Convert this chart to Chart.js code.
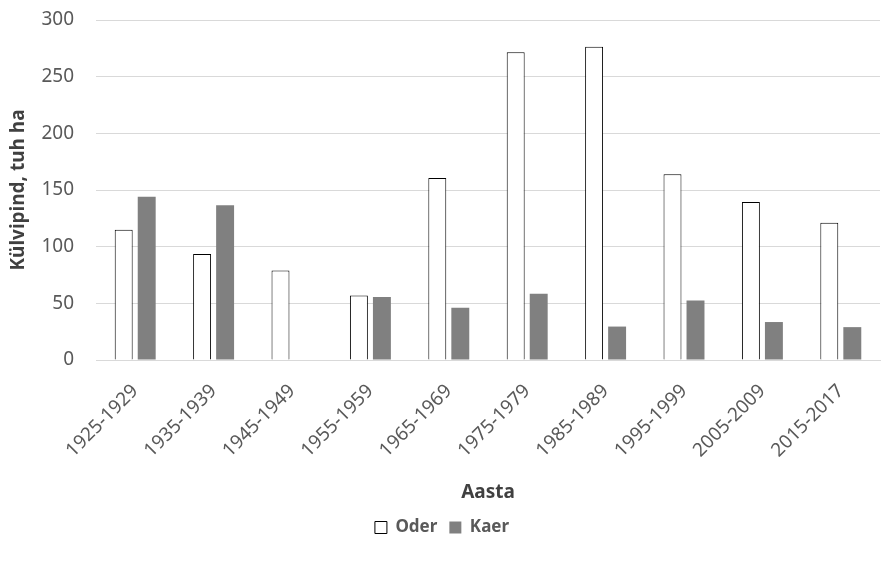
<!DOCTYPE html>
<html>
<head>
<meta charset="utf-8">
<script src="https://cdn.jsdelivr.net/npm/chart.js@4"></script>
<style>
    html, body { margin: 0; padding: 0; background: #ffffff; }
    #wrap { width: 887px; height: 562px; }
</style>
</head>
<body>
<div id="wrap"><canvas id="chart"></canvas></div>
<script>
// Data
var periods = ['1925-1929', '1935-1939', '1945-1949', '1955-1959', '1965-1969',
               '1975-1979', '1985-1989', '1995-1999', '2005-2009', '2015-2017'];
var oderValues = [115, 93.5, 79, 57, 160.5, 271.5, 276.5, 164, 139.5, 121];
var kaerValues = [144, 136.5, null, 55.5, 46, 58.5, 29.5, 52.5, 33.5, 29];
var yTicks = [0, 50, 100, 150, 200, 250, 300];

var fontFamily = '"Noto Sans", "Open Sans", sans-serif';

document.addEventListener('DOMContentLoaded', function() {
    var ctx = document.getElementById('chart').getContext('2d');

    new Chart(ctx, {
        type: 'bar',
        data: {
            labels: periods,
            datasets: [{
                label: 'Oder',
                data: oderValues,
                backgroundColor: '#ffffff',
                borderColor: '#000000',
                borderWidth: 1,
                categoryPercentage: 0.587,
                barPercentage: 0.78
            }, {
                label: 'Kaer',
                data: kaerValues,
                backgroundColor: '#808080',
                borderColor: '#808080',
                borderWidth: 0,
                categoryPercentage: 0.587,
                barPercentage: 0.78
            }]
        },
        options: {
            responsive: true,
            maintainAspectRatio: false,
            animation: false,
            layout: {
                padding: { left: 4, right: 7, top: 20, bottom: 16 }
            },
            plugins: {
                tooltip: { enabled: false },
                legend: {
                    position: 'bottom',
                    labels: {
                        color: '#595959',
                        boxWidth: 12,
                        boxHeight: 12,
                        padding: 12,
                        font: { family: fontFamily, size: 17, weight: 'bold' }
                    }
                }
            },
            scales: {
                x: {
                    afterFit: function(axis) {
                        // keep the plot area where the reference has it
                        axis.height = 147;
                        axis.paddingLeft = 0;
                        axis.paddingRight = 0;
                    },
                    grid: { display: false },
                    border: { color: '#d9d9d9', width: 1 },
                    ticks: {
                        color: '#595959',
                        minRotation: 45,
                        maxRotation: 45,
                        padding: 12,
                        font: { family: fontFamily, size: 19 }
                    },
                    title: {
                        display: true,
                        text: 'Aasta',
                        color: '#404040',
                        padding: { top: 10, bottom: 3 },
                        font: { family: fontFamily, size: 19, weight: 'bold' }
                    }
                },
                y: {
                    min: 0,
                    max: 300,
                    afterBuildTicks: function(axis) {
                        axis.ticks = yTicks.map(function(v) { return { value: v }; });
                    },
                    afterFit: function(axis) {
                        axis.width = 92;
                        axis.paddingTop = 0;
                        axis.paddingBottom = 0;
                    },
                    grid: { color: '#d9d9d9', lineWidth: 1, drawTicks: false },
                    border: { display: false },
                    ticks: {
                        color: '#595959',
                        padding: 22,
                        font: { family: fontFamily, size: 19 }
                    },
                    title: {
                        display: true,
                        text: 'Külvipind, tuh ha',
                        color: '#404040',
                        padding: { top: 3, bottom: 4 },
                        font: { family: fontFamily, size: 19, weight: 'bold' }
                    }
                }
            }
        }
    });
});
</script>
</body>
</html>
